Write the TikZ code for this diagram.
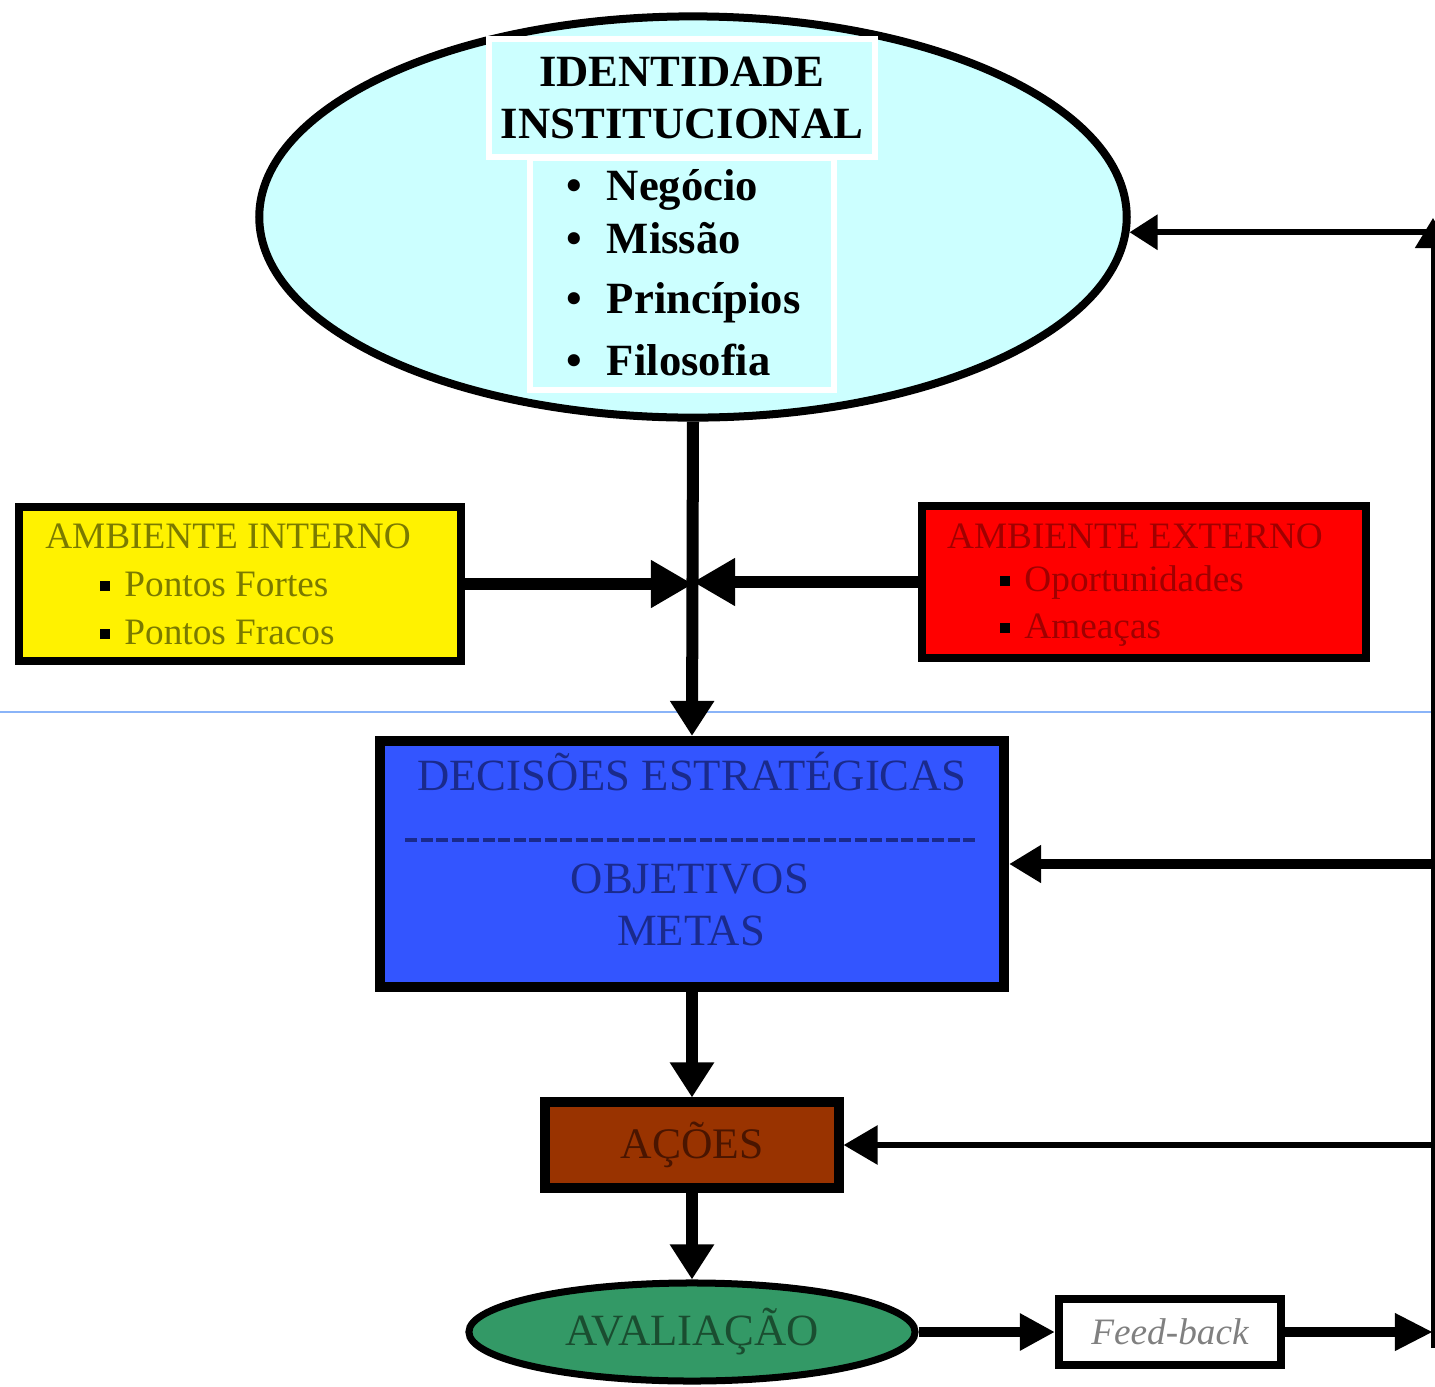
\documentclass[tikz,border=0pt]{standalone}
\usepackage{fontspec}
\setmainfont{Liberation Serif}
\usetikzlibrary{arrows.meta,shapes.geometric}
\definecolor{idcyan}{HTML}{CCFFFF}
\definecolor{decblue}{HTML}{3355FF}
\definecolor{acbrown}{HTML}{993300}
\definecolor{avgreen}{HTML}{339966}
\definecolor{intxt}{HTML}{7A7A00}
\definecolor{extxt}{HTML}{A00000}
\definecolor{dectxt}{HTML}{1A2A8C}
\definecolor{actxt}{HTML}{4A1500}
\definecolor{avtxt}{HTML}{1A4D30}
\definecolor{fbtxt}{HTML}{808080}
\definecolor{guia}{HTML}{8AB4F8}
\newcommand{\marca}{\textcolor{black}{\rule[1.6pt]{2.8pt}{2.8pt}}\hspace{0.4em}}

\begin{document}
\begin{tikzpicture}[x=0.01cm,y=-0.01cm,
  box/.style={draw,line width=0.08cm,inner sep=0pt},
  txt/.style={inner sep=0pt,text height=7.5pt,text depth=2.5pt,font=\fontsize{10.6}{12}\selectfont},
  item/.style={inner sep=0pt,anchor=west,text height=9pt,text depth=3pt,font=\bfseries\fontsize{12.7}{15}\selectfont},
  big/.style={inner sep=0pt,text height=9pt,text depth=3pt,font=\fontsize{12.7}{15}\selectfont},
  quad/.style={inner sep=0pt},
  seta/.style={-{Triangle[length=0.35cm,width=0.42cm]},line width=0.12cm},
  setafina/.style={-{Triangle[length=0.28cm,width=0.34cm]},line width=0.06cm}]
\useasboundingbox (0,0) rectangle (1435,1387);
\draw[guia,line width=0.012cm] (0,712) -- (1435,712);
\node[ellipse,draw,line width=0.08cm,fill=idcyan,minimum width=8.67cm,minimum height=4.01cm] (ident) at (693,217) {};
\node[quad,draw=white,line width=0.06cm,fill=idcyan,minimum width=3.03cm,minimum height=2.31cm] (lista) at (682,274) {};
\node[quad,draw=white,line width=0.06cm,fill=idcyan,minimum width=3.86cm,minimum height=1.18cm,align=center,font=\bfseries\fontsize{12.7}{15}\selectfont] (titulo) at (682,98) {IDENTIDADE\\INSTITUCIONAL};
\node[item] (negocio) at (566,190) {\textbullet\hspace{0.55em}Negócio};
\node[item] (missao) at (566,243) {\textbullet\hspace{0.55em}Missão};
\node[item] (principios) at (566,303) {\textbullet\hspace{0.55em}Princípios};
\node[item] (filosofia) at (566,365) {\textbullet\hspace{0.55em}Filosofia};
\node[box,fill=yellow,minimum width=4.42cm,minimum height=1.54cm] (int) at (240,584) {};
\node[txt,text=intxt] (intitulo) at (228,540) {AMBIENTE INTERNO};
\node[txt,text=intxt,anchor=west] (fortes) at (99,588) {\marca Pontos Fortes};
\node[txt,text=intxt,anchor=west] (fracos) at (99,636) {\marca Pontos Fracos};
\node[box,fill=red,minimum width=4.44cm,minimum height=1.51cm] (ext) at (1144,582) {};
\node[txt,text=extxt] (extitulo) at (1135,540) {AMBIENTE EXTERNO};
\node[txt,text=extxt,anchor=west] (oportunidades) at (999,583) {\marca Oportunidades};
\node[txt,text=extxt,anchor=west] (ameacas) at (999,630) {\marca Ameaças};
\node[box,line width=0.1cm,fill=decblue,minimum width=6.24cm,minimum height=2.46cm] (dec) at (692,864) {};
\node[big,text=dectxt] (dectitulo) at (692,780) {DECISÕES ESTRATÉGICAS};
\draw[dectxt,line width=0.04cm,dash pattern=on 0.12cm off 0.035cm] (405,840) -- (978,840);
\node[big,text=dectxt] (objetivos) at (690,883) {OBJETIVOS};
\node[big,text=dectxt] (metas) at (691,935) {METAS};
\node[box,line width=0.1cm,fill=acbrown,minimum width=2.93cm,minimum height=0.85cm,text=actxt,font=\fontsize{12.4}{15}\selectfont] (acoes) at (692,1145) {AÇÕES};
\node[ellipse,draw,line width=0.07cm,fill=avgreen,minimum width=4.46cm,minimum height=0.98cm,inner sep=0pt,text=avtxt,font=\fontsize{12.7}{15}\selectfont] (aval) at (692,1332) {AVALIAÇÃO};
\node[box,fill=white,minimum width=2.22cm,minimum height=0.65cm,text=fbtxt,font=\itshape\fontsize{10.6}{12}\selectfont] (fb) at (1170,1332) {Feed-back};
\coordinate (fbr) at (1433,1332);
\coordinate (fbb) at (1433,1348);
\coordinate (topr) at (1433,218);
\draw[seta] (ident.south) -- (dec.north);
\draw[-{Triangle[length=0.42cm,width=0.45cm]},line width=0.12cm] (int.east) -- (int.east -| ident.south);
\draw[-{Triangle[length=0.42cm,width=0.45cm]},line width=0.12cm] (ext.west) -- (ext.west -| ident.south);
\draw[seta] (dec.south) -- (acoes.north);
\draw[seta] (acoes.south) -- (aval.north);
\draw[-{Triangle[length=0.35cm,width=0.35cm]},line width=0.1cm] (aval.east) -- (fb.west);
\draw[-{Triangle[length=0.38cm,width=0.35cm]},line width=0.1cm] (fb.east) -- (fbr);
\draw[-{Triangle[length=0.3cm,width=0.35cm]},line width=0.05cm] (fbb) -- (topr);
\draw[setafina] (ident.-2 -| topr) -- (ident.-2);
\draw[-{Triangle[length=0.32cm,width=0.36cm]},line width=0.1cm] (dec.east -| topr) -- (dec.east);
\draw[-{Triangle[length=0.34cm,width=0.38cm]},line width=0.06cm] (acoes.east -| topr) -- (acoes.east);
\end{tikzpicture}
\end{document}
